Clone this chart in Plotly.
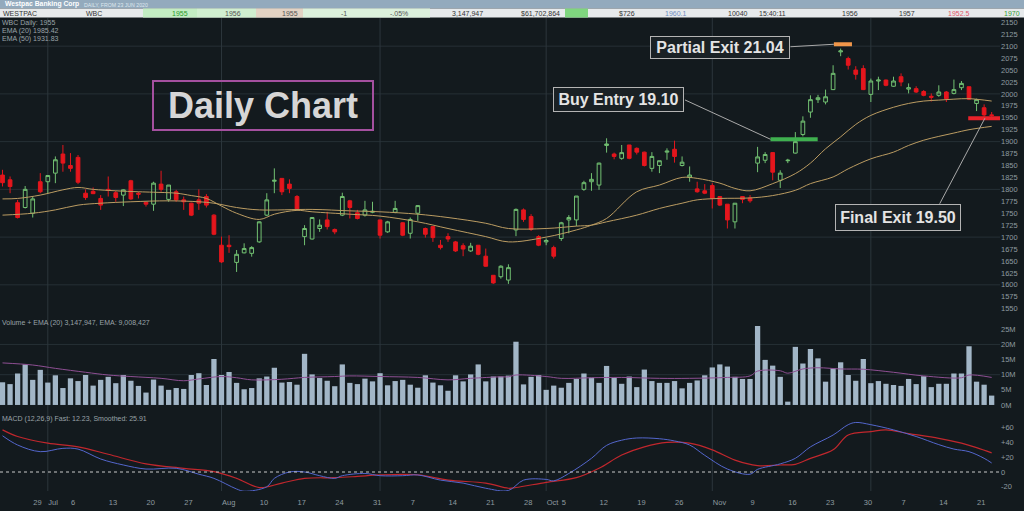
import pandas as pd
import plotly.graph_objects as go
from plotly.subplots import make_subplots

# trading days shown (ASX, 23 Jun - 23 Dec 2020)
dates = pd.bdate_range("2020-06-23", "2020-12-23")

# OHLC in cents
opens = [1830, 1820, 1772, 1762, 1750, 1816, 1816, 1834, 1874, 1850, 1867, 1792, 1796, 1781, 1800, 1793,
         1788, 1818, 1792, 1773, 1769, 1811, 1779, 1795, 1778, 1771, 1778, 1785, 1746, 1683, 1683, 1647,
         1667, 1666, 1690, 1746, 1817, 1823, 1811, 1785, 1701, 1696, 1718, 1736, 1716, 1746, 1776, 1751,
         1746, 1752, 1736, 1711, 1752, 1730, 1708, 1750, 1718, 1722, 1683, 1701, 1690, 1682, 1671, 1683,
         1660, 1620, 1617, 1610, 1715, 1757, 1743, 1701, 1690, 1678, 1697, 1736, 1736, 1800, 1816, 1809,
         1892, 1874, 1865, 1893, 1886, 1878, 1844, 1850, 1878, 1884, 1850, 1825, 1801, 1797, 1808, 1785,
         1769, 1732, 1785, 1782, 1855, 1861, 1877, 1819, 1860, 1876, 1915, 1962, 1988, 1983, 2009, 2088,
         2074, 2050, 2053, 1999, 2027, 2029, 2016, 2036, 2010, 2011, 2005, 1995, 1997, 2004, 2001, 2013,
         2015, 1980, 1971, 1956]
highs = [1841, 1827, 1778, 1807, 1785, 1834, 1830, 1869, 1893, 1876, 1872, 1800, 1804, 1788, 1827, 1797,
         1800, 1820, 1795, 1774, 1816, 1839, 1809, 1799, 1785, 1772, 1800, 1790, 1748, 1701, 1704, 1673,
         1687, 1681, 1733, 1792, 1844, 1823, 1821, 1788, 1725, 1742, 1737, 1753, 1718, 1793, 1778, 1757,
         1776, 1774, 1736, 1734, 1776, 1731, 1741, 1767, 1720, 1723, 1694, 1708, 1692, 1687, 1688, 1683,
         1676, 1620, 1641, 1643, 1760, 1760, 1748, 1704, 1697, 1682, 1732, 1746, 1786, 1818, 1834, 1856,
         1907, 1877, 1893, 1893, 1888, 1879, 1878, 1860, 1886, 1902, 1869, 1848, 1816, 1811, 1813, 1785,
         1769, 1771, 1786, 1788, 1889, 1878, 1877, 1840, 1864, 1920, 1953, 1997, 1998, 2009, 2060, 2095,
         2078, 2058, 2060, 2032, 2036, 2030, 2036, 2043, 2022, 2016, 2008, 2001, 2018, 2006, 2030, 2027,
         2015, 1990, 1978, 1962]
lows = [1806, 1792, 1739, 1760, 1741, 1792, 1792, 1813, 1837, 1837, 1811, 1778, 1790, 1757, 1785, 1774,
        1765, 1778, 1781, 1764, 1755, 1795, 1774, 1774, 1757, 1744, 1757, 1762, 1704, 1646, 1667, 1627,
        1666, 1659, 1688, 1744, 1792, 1788, 1792, 1757, 1683, 1695, 1711, 1716, 1706, 1744, 1739, 1737,
        1743, 1750, 1697, 1709, 1750, 1702, 1697, 1734, 1699, 1690, 1674, 1690, 1669, 1660, 1669, 1662,
        1638, 1602, 1613, 1602, 1702, 1732, 1713, 1681, 1683, 1655, 1692, 1708, 1723, 1797, 1797, 1799,
        1877, 1863, 1862, 1863, 1873, 1848, 1837, 1834, 1862, 1856, 1848, 1816, 1793, 1790, 1760, 1765,
        1718, 1718, 1771, 1772, 1836, 1855, 1819, 1803, 1855, 1875, 1911, 1950, 1981, 1978, 2008, 2079,
        2051, 2030, 2008, 1983, 2008, 2016, 2015, 2016, 2001, 2002, 1995, 1984, 1994, 1983, 1999, 2008,
        1987, 1964, 1952, 1952]
closes = [1814, 1806, 1741, 1800, 1780, 1795, 1829, 1862, 1855, 1844, 1815, 1783, 1791, 1767, 1798, 1783,
          1799, 1780, 1790, 1769, 1813, 1800, 1809, 1778, 1774, 1746, 1771, 1767, 1706, 1648, 1680, 1664,
          1676, 1678, 1732, 1778, 1819, 1795, 1802, 1759, 1718, 1741, 1725, 1722, 1711, 1785, 1762, 1739,
          1757, 1754, 1704, 1732, 1760, 1704, 1737, 1766, 1706, 1699, 1678, 1696, 1671, 1675, 1681, 1664,
          1639, 1604, 1639, 1636, 1758, 1737, 1716, 1683, 1693, 1660, 1730, 1741, 1786, 1814, 1821, 1855,
          1895, 1869, 1877, 1865, 1878, 1850, 1869, 1860, 1880, 1869, 1857, 1830, 1795, 1792, 1781, 1767,
          1736, 1771, 1779, 1776, 1868, 1873, 1836, 1834, 1861, 1900, 1943, 1988, 1992, 1994, 2043, 2090,
          2060, 2041, 2009, 2027, 2029, 2018, 2027, 2025, 2013, 2004, 1997, 1993, 2004, 1990, 2009, 2022,
          1989, 1988, 1956, 1955]

# daily volume, millions of shares
volume_m = [7.5, 6.9, 10.4, 13.4, 8.3, 11.6, 7.4, 9.8, 5.6, 8.8, 7.9, 9.9, 6.4, 8.3, 9.3, 7.2,
            9.9, 8.0, 6.3, 4.1, 8.4, 6.4, 5.0, 5.6, 5.3, 9.9, 10.5, 6.6, 15.2, 9.9, 10.9, 7.3,
            5.2, 5.6, 8.8, 9.4, 12.3, 7.4, 7.6, 6.7, 16.9, 10.1, 8.9, 8.0, 6.2, 13.4, 7.3, 6.9,
            8.7, 7.8, 10.5, 6.5, 7.9, 8.3, 6.7, 5.7, 9.8, 7.4, 6.5, 4.7, 9.8, 7.8, 10.1, 13.4,
            7.8, 9.4, 9.4, 9.7, 20.9, 6.8, 9.3, 9.9, 5.0, 6.4, 5.7, 7.3, 8.6, 10.4, 9.0, 7.3,
            12.9, 9.0, 7.0, 9.4, 5.9, 11.7, 7.9, 7.3, 7.3, 7.9, 5.5, 7.3, 8.1, 9.8, 12.4, 13.4,
            12.7, 9.3, 8.6, 8.6, 26.1, 14.9, 13.0, 9.3, 1.1, 19.2, 13.7, 18.5, 15.4, 7.7, 12.1, 14.1,
            9.9, 8.0, 15.2, 7.2, 7.9, 7.0, 6.6, 6.3, 8.6, 6.9, 9.5, 5.9, 7.0, 7.0, 10.4, 10.4,
            19.4, 7.7, 6.7, 3.1]

# indicator lines, sampled at trading-day index
ema20_idx = [0, 2, 5, 8, 10, 12, 15, 18, 20, 23, 25, 27, 29, 31, 34, 36, 39, 41, 46, 50, 55, 59, 64, 67,
             72, 76, 78, 80, 84, 87, 90, 92, 95, 97, 99, 102, 105, 107, 109, 111, 113, 115, 118, 120,
             122, 124, 126, 128, 131]
ema20_val = [1780, 1781, 1788, 1799, 1804, 1800, 1797, 1795, 1794, 1792, 1787, 1781, 1765, 1750, 1737,
             1748, 1756, 1753, 1748, 1744, 1732, 1718, 1701, 1690, 1700, 1715, 1725, 1739, 1795, 1809,
             1825, 1823, 1813, 1802, 1797, 1812, 1833, 1855, 1885, 1910, 1936, 1955, 1972, 1980, 1985,
             1987, 1989, 1990, 1985]
ema50_idx = [0, 4, 7, 10, 13, 17, 22, 26, 28, 31, 34, 41, 46, 50, 55, 59, 64, 67, 72, 76, 78, 80, 84, 87,
             90, 92, 95, 99, 102, 105, 107, 110, 112, 115, 118, 120, 122, 124, 126, 128, 131]
ema50_val = [1746, 1750, 1757, 1767, 1771, 1774, 1776, 1774, 1771, 1762, 1757, 1758, 1755, 1753, 1748,
             1741, 1729, 1718, 1718, 1723, 1725, 1732, 1746, 1760, 1771, 1778, 1781, 1782, 1787, 1798,
             1812, 1826, 1843, 1864, 1878, 1892, 1903, 1911, 1918, 1925, 1932]
vol_ema_idx = [0, 4, 7, 11, 14, 17, 21, 24, 26, 29, 31, 33, 37, 40, 44, 46, 50, 55, 59, 62, 66, 67, 68, 72,
               74, 78, 82, 87, 91, 96, 99, 100, 103, 104, 106, 108, 111, 114, 118, 122, 127, 128, 131]
vol_ema_val = [13.9, 13.2, 12.1, 10.8, 9.9, 9.4, 8.8, 8.0, 8.6, 9.4, 9.0, 8.3, 8.5, 9.1, 9.4, 9.6, 9.4,
               9.1, 8.3, 8.8, 9.3, 9.3, 9.9, 9.4, 8.8, 9.0, 9.1, 8.8, 8.8, 9.1, 9.6, 11.2, 11.3, 10.5,
               11.9, 12.3, 11.9, 11.8, 10.8, 9.6, 9.0, 9.9, 9.1]
macd_idx = [0, 2, 5, 8, 10, 13, 16, 19, 23, 26, 28, 31, 32, 35, 36, 38, 40, 42, 44, 45, 48, 50, 53, 55,
            58, 61, 64, 67, 69, 72, 73, 75, 78, 80, 82, 84, 87, 89, 91, 93, 96, 99, 100, 103, 105, 107,
            110, 112, 113, 115, 118, 121, 124, 126, 128, 130, 131]
macd_val = [49, 36.5, 27.5, 32, 31, 17.6, 9.5, 4, 5, -3, -8.6, -23, -26, -20, -8.6, 0, 0, -5, -8.6, -5,
            -2, -5, -5, -4, -11, -15, -22, -25, -11, -10, -12, -2, 18.5, 36, 43, 46, 45, 42, 36.5, 22.6,
            4, -3, 3.6, 11, 18.5, 34, 50, 64, 67, 64, 57, 48, 37, 31, 27.5, 18.5, 12.2]
signal_idx = [0, 2, 6, 10, 14, 19, 24, 28, 31, 34, 37, 40, 44, 47, 50, 55, 59, 64, 67, 68, 72, 76, 79,
              82, 85, 88, 91, 94, 97, 100, 103, 105, 107, 110, 112, 115, 117, 120, 124, 127, 129, 131]
signal_val = [57, 48, 39, 34, 24, 11, 5, 0.5, -8.6, -21, -15, -8.6, -7.7, -6, -4, -4, -11, -15, -22, -21,
              -14, -7.7, 5, 23, 34, 40, 39, 30, 16, 8.6, 9.5, 10.4, 18.5, 30, 50, 54.6, 57, 52, 45.6,
              39, 33, 25.9]

# trades marked on the chart
trade_labels = ["Buy Entry 19.10", "Partial Exit 21.04", "Final Exit 19.50"]
trade_levels = [1905, 2104, 1949]
trade_start = ["2020-11-11 17:00", "2020-11-24 02:30", "2020-12-17 21:30"]
trade_end = ["2020-11-19 23:00", "2020-11-26 12:00", "2020-12-24 06:00"]
trade_colors = ["#3fb04f", "#f0964a", "#e8222a"]

tick_dates = ["2020-06-29", "2020-07-01", "2020-07-06", "2020-07-13", "2020-07-20", "2020-07-27",
              "2020-08-03", "2020-08-10", "2020-08-17", "2020-08-24", "2020-08-31", "2020-09-07",
              "2020-09-14", "2020-09-21", "2020-09-28", "2020-10-01", "2020-10-05", "2020-10-12",
              "2020-10-19", "2020-10-26", "2020-11-02", "2020-11-09", "2020-11-16", "2020-11-23",
              "2020-11-30", "2020-12-07", "2020-12-14", "2020-12-21"]
tick_text = ["29", "Jul", "6", "13", "20", "27", "Aug", "10", "17", "24", "31", "7", "14", "21", "28",
             "Oct", "5", "12", "19", "26", "Nov", "9", "16", "23", "30", "7", "14", "21"]
month_starts = ["2020-07-01", "2020-08-03", "2020-09-01", "2020-10-01", "2020-11-02", "2020-12-01"]
price_ticks = list(range(1550, 2151, 25))
price_grid = list(range(1600, 2101, 100))
vol_ticks = [0, 5, 10, 15, 20, 25]
macd_ticks = [-20, 0, 20, 40, 60]
macd_ticktext = ["-20", "0", "+20", "+40", "+60"]

BG = "#131a1e"
GRID = "#263036"
TXT = "#8f9aa0"
FONT = "Liberation Sans, Arial, sans-serif"
H = 511


def py(px):
    # pixel row -> paper y
    return (H - px) / H


fig = make_subplots(rows=3, cols=1, shared_xaxes=True, vertical_spacing=0)

fig.add_trace(go.Candlestick(
    x=dates, open=opens, high=highs, low=lows, close=closes,
    increasing=dict(line=dict(color="#72c172", width=1), fillcolor="rgba(0,0,0,0)"),
    decreasing=dict(line=dict(color="#e5161d", width=1), fillcolor="#e5161d"),
    whiskerwidth=0, showlegend=False, hoverinfo="skip"), row=1, col=1)

for idx, val in [(ema20_idx, ema20_val), (ema50_idx, ema50_val)]:
    fig.add_trace(go.Scatter(x=[dates[i] for i in idx], y=val, mode="lines",
                             line=dict(color="#bb9c62", width=1, shape="spline"),
                             showlegend=False, hoverinfo="skip"), row=1, col=1)

for lab, lev, s, e, c in zip(trade_labels, trade_levels, trade_start, trade_end, trade_colors):
    fig.add_trace(go.Scatter(x=[s, e], y=[lev, lev], mode="lines", line=dict(color=c, width=4),
                             showlegend=False, hoverinfo="skip"), row=1, col=1)

fig.add_trace(go.Bar(x=dates, y=volume_m, marker=dict(color="#a2b6c7", line=dict(width=0)),
                     showlegend=False, hoverinfo="skip"), row=2, col=1)
fig.add_trace(go.Scatter(x=[dates[i] for i in vol_ema_idx], y=vol_ema_val, mode="lines",
                         line=dict(color="#8e4f93", width=1, shape="spline"),
                         showlegend=False, hoverinfo="skip"), row=2, col=1)

fig.add_trace(go.Scatter(x=[dates[i] for i in signal_idx], y=signal_val, mode="lines",
                         line=dict(color="#c1272d", width=1.2, shape="spline"),
                         showlegend=False, hoverinfo="skip"), row=3, col=1)
fig.add_trace(go.Scatter(x=[dates[i] for i in macd_idx], y=macd_val, mode="lines",
                         line=dict(color="#5366cc", width=1, shape="spline"),
                         showlegend=False, hoverinfo="skip"), row=3, col=1)

# gridlines
for g in price_grid:
    fig.add_hline(y=g, line=dict(color=GRID, width=1), layer="below", row=1, col=1)
for g in [10, 20]:
    fig.add_hline(y=g, line=dict(color=GRID, width=1), layer="below", row=2, col=1)
fig.add_hline(y=0, line=dict(color="#c9c9c9", width=1, dash="dot"), row=3, col=1)
for m in month_starts:
    fig.add_shape(type="line", xref="x", yref="paper", x0=m, x1=m, y0=py(491), y1=py(18),
                  line=dict(color="#2c363c", width=1), layer="below")

fig.update_xaxes(type="date", range=["2020-06-22 16:00", "2020-12-24 02:30"],
                 rangebreaks=[dict(bounds=["sat", "mon"])], showgrid=False, zeroline=False,
                 showline=False, tickvals=tick_dates, ticktext=tick_text, showticklabels=False,
                 rangeslider_visible=False, domain=[0, 1], automargin=False, tickangle=0)
fig.update_xaxes(showticklabels=True, ticklabelposition="outside right", ticks="outside",
                 ticklen=12, tickcolor=BG, ticklabelstandoff=4,
                 tickfont=dict(size=7.5, color=TXT), row=3, col=1)

axis_common = dict(side="right", showgrid=False, zeroline=False, showline=False, ticks="",
                   tickfont=dict(size=7.5, color=TXT), automargin=False)
fig.update_yaxes(domain=[py(313), py(18)], range=[1541, 2159], tickvals=price_ticks,
                 ticktext=[str(t) for t in price_ticks], **axis_common, row=1, col=1)
fig.update_yaxes(domain=[py(408), py(316)], range=[-1.0, 29.4], tickvals=vol_ticks,
                 ticktext=[f"{t}M" for t in vol_ticks], **axis_common, row=2, col=1)
fig.update_yaxes(domain=[py(491), py(413)], range=[-25.7, 79.8], tickvals=macd_ticks,
                 ticktext=macd_ticktext, **axis_common, row=3, col=1)

# header bars
shapes = [
    dict(type="rect", xref="paper", yref="paper", x0=0, x1=1.024, y0=py(8.5), y1=1,
         fillcolor="#93aabd", line=dict(width=0)),
    dict(type="rect", xref="paper", yref="paper", x0=0, x1=1.024, y0=py(17.5), y1=py(8.5),
         fillcolor="#e7eaec", line=dict(width=0)),
]
for x0, x1, c in [(143, 197, "#c3edc3"), (197, 256, "#d0efd0"), (256, 303, "#e3d3c4"),
                  (303, 430, "#dcf1dc"), (565, 588, "#7fd67f")]:
    shapes.append(dict(type="rect", xref="paper", yref="paper", x0=x0 / 1000, x1=x1 / 1000,
                       y0=py(17.5), y1=py(8.5), fillcolor=c, line=dict(width=0)))
for s in shapes:
    fig.add_shape(s)

ann = []
ann.append(dict(text="<b>Westpac Banking Corp</b>", x=0.003, y=py(4.3), xanchor="left",
                font=dict(size=6.8, color="white")))
ann.append(dict(text="DAILY, FROM 23 JUN 2020", x=0.082, y=py(4.6), xanchor="left",
                font=dict(size=5.2, color="#dfe7ee")))
quote = [("WESTPAC", 1, "left", "#333"), ("WBC", 84, "left", "#333"),
         ("1955", 190, "right", "#2b9a2b"), ("1956", 243, "right", "#555"),
         ("1955", 300, "right", "#555"), ("-1", 349, "right", "#555"),
         ("-.05%", 410, "right", "#555"), ("3,147,947", 485, "right", "#333"),
         ("$61,702,864", 562, "right", "#333"), ("$726", 637, "right", "#333"),
         ("1960.1", 689, "right", "#6f8cbf"), ("10040", 750, "right", "#333"),
         ("15:40:11", 788, "right", "#333"), ("1956", 860, "right", "#333"),
         ("1957", 917, "right", "#333"), ("1952.5", 972, "right", "#e0566a"),
         ("1970", 1022, "right", "#33a033")]
for t, x, anc, c in quote:
    ann.append(dict(text=t, x=x / 1000, y=py(13), xanchor=anc, font=dict(size=7, color=c)))

for t, y in [("WBC Daily: 1955", 23), ("EMA (20) 1985.42", 31), ("EMA (50) 1931.83", 39),
             ("Volume + EMA (20) 3,147,947, EMA: 9,008,427", 323),
             ("MACD (12,26,9) Fast: 12.23, Smoothed: 25.91", 419)]:
    ann.append(dict(text=t, x=0.0, y=py(y), xanchor="left", font=dict(size=7, color="#9aa3a8")))

ann.append(dict(text="<b>Daily Chart</b>", x=0.263, y=py(105.5), width=216, height=45,
                font=dict(size=36, color="#d6d6d6"), bordercolor="#a4509f", borderwidth=2,
                borderpad=1))

# trade labels and connectors
box_centres = [(618, 99.5), (719.5, 47.5), (898, 217.5)]
box_sizes = [(125, 19), (134, 17), (120, 21)]
tails = [(-87, -40), (-45, 2.6), (-46, 87)]
tips_x = ["2020-11-11 17:00", "2020-11-24 02:30", "2020-12-22 02:30"]
for lab, (cx, cy), (w, h), (ax, ay), tx, lev in zip(trade_labels, box_centres, box_sizes, tails,
                                                    tips_x, trade_levels):
    ann.append(dict(text="", x=tx, y=lev, xref="x", yref="y", ax=ax, ay=ay, showarrow=True,
                    arrowhead=0, arrowwidth=1, arrowcolor="#a9a9a9"))
    ann.append(dict(text=f"<b>{lab}</b>", x=cx / 1000, y=py(cy), width=w, height=h,
                    font=dict(size=16, color="#e4e4e4"), bgcolor="#1a2125",
                    bordercolor="#b4b4b4", borderwidth=1, borderpad=2))

for a in ann:
    a.setdefault("xref", "paper")
    a.setdefault("yref", "paper")
    a.setdefault("xanchor", "center")
    a.setdefault("yanchor", "middle")
    a.setdefault("showarrow", False)
    fig.add_annotation(**a)

fig.update_layout(width=1024, height=511, margin=dict(l=0, r=24, t=0, b=0, autoexpand=False),
                  paper_bgcolor=BG, plot_bgcolor=BG, bargap=0.3, showlegend=False,
                  font=dict(family=FONT, color=TXT))

fig.write_html("out.html", config={"displayModeBar": False},
               post_script="document.body.style.margin='0';document.body.style.overflow='hidden';")
